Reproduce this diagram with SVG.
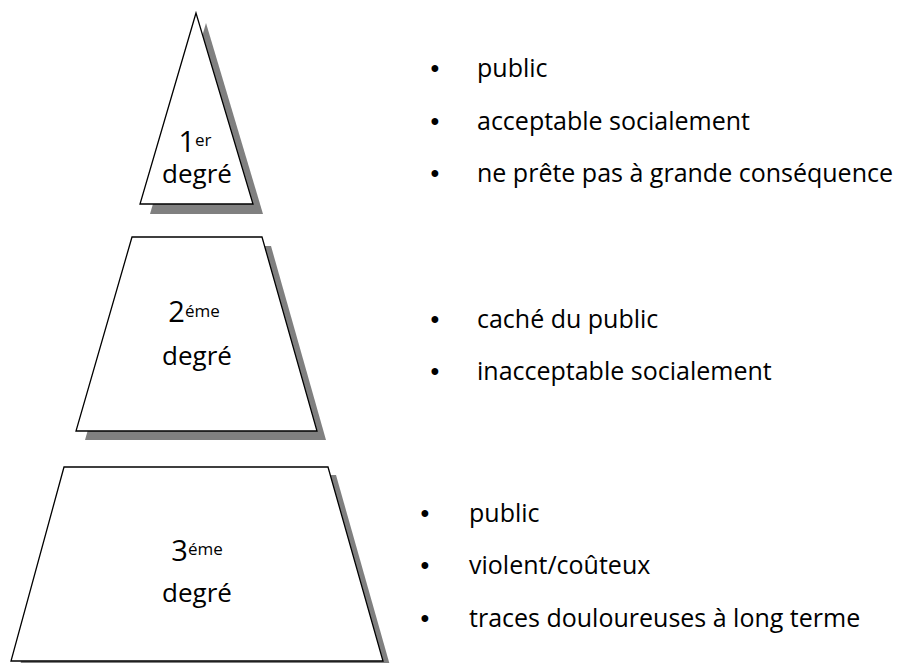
<svg xmlns="http://www.w3.org/2000/svg" width="897" height="663" viewBox="0 0 897 663">
<style>
.shadow{fill:#808080;stroke:none}
.shape{fill:#ffffff;stroke:#000000;stroke-width:1.3;stroke-linejoin:miter}
.lbl{font-family:"Open Sans","Liberation Sans",sans-serif;font-size:26px;fill:#000;text-anchor:middle}
.num{font-size:29px}
.sup{font-size:17px}
.item{font-family:"Open Sans","Liberation Sans",sans-serif;font-size:25px;fill:#000}
.bul{font-family:"Liberation Sans",Arial,sans-serif;font-size:25px;fill:#000;text-anchor:middle}
</style>
<rect width="897" height="663" fill="#ffffff"/>
<g id="degre1">
<polygon class="shadow" points="206,23 150,214 263,214"/>
<polygon class="shape" points="196,13 140,204 253,204"/>
<text class="lbl"><tspan x="195" y="152" class="num">1</tspan><tspan class="sup" dy="-6">er</tspan><tspan x="197" y="183">degré</tspan></text>
</g>
<g id="degre2">
<polygon class="shadow" points="141,246 271,246 326,440 85,440"/>
<polygon class="shape" points="132,237 262,237 317,431 76,431"/>
<text class="lbl"><tspan x="194" y="322" class="num">2</tspan><tspan class="sup" dy="-5">éme</tspan><tspan x="197" y="365">degré</tspan></text>
</g>
<g id="degre3">
<polygon class="shadow" points="72,475 336,475 391,669 19,669"/>
<polygon class="shape" points="64,467 328,467 383,661 11,661"/>
<text class="lbl"><tspan x="197" y="561" class="num">3</tspan><tspan class="sup" dy="-6">éme</tspan><tspan x="197" y="602">degré</tspan></text>
</g>
<g id="liste1">
<text class="bul" x="435" y="77">•</text><text class="item" x="477" y="77">public</text>
<text class="bul" x="435" y="130">•</text><text class="item" x="477" y="130">acceptable socialement</text>
<text class="bul" x="435" y="182">•</text><text class="item" x="477" y="182">ne prête pas à grande conséquence</text>
</g>
<g id="liste2">
<text class="bul" x="435" y="328">•</text><text class="item" x="477" y="328">caché du public</text>
<text class="bul" x="435" y="380">•</text><text class="item" x="477" y="380">inacceptable socialement</text>
</g>
<g id="liste3">
<text class="bul" x="425" y="522">•</text><text class="item" x="469" y="522">public</text>
<text class="bul" x="425" y="574">•</text><text class="item" x="469" y="574">violent/coûteux</text>
<text class="bul" x="425" y="627">•</text><text class="item" x="469" y="627">traces douloureuses à long terme</text>
</g>
<g id="connecteurs"/>
</svg>
